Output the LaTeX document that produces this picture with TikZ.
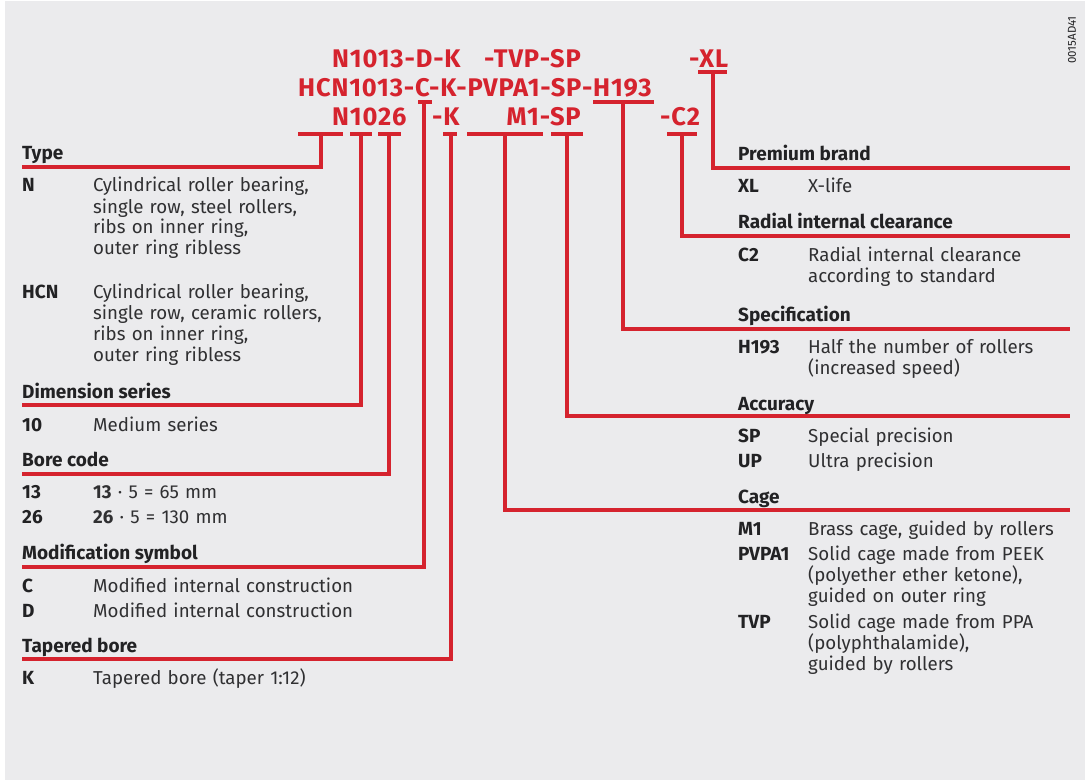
\documentclass[tikz,border=0pt]{standalone}
\usepackage{fontspec}
\setmainfont{Fira Sans}
\newfontfamily\codefont[LetterSpace=3.3]{Fira Sans}
\definecolor{brandred}{RGB}{213,35,46}
\definecolor{panel}{RGB}{235,235,237}
\definecolor{ink}{RGB}{34,34,36}
\definecolor{bodyink}{RGB}{48,48,50}
\begin{document}
\begin{tikzpicture}[x=1pt,y=-1pt,
  codetext/.style={anchor=base west, inner sep=0pt, text=brandred,
    font=\codefont\fontsize{25.5}{28}\selectfont\bfseries},
  head/.style={anchor=base west, inner sep=0pt, text=ink,
    font=\fontsize{19}{21}\selectfont\bfseries},
  keytext/.style={head},
  desc/.style={anchor=base west, inner sep=0pt, text=bodyink,
    font=\fontsize{18.7}{21}\selectfont, text width=330pt, align=left},
  lead/.style={draw=brandred, line width=3.5pt, line cap=butt, line join=miter}]
\useasboundingbox (0,0) rectangle (1085,781);
\fill[panel] (5,1) rectangle (1085,780);

% ---- order designations
\node[codetext] (c1a) at (332,68) {N1013-D-K};
\node[codetext, anchor=base east] (c1b) at (581,68) {-TVP-SP};
\node[codetext] (c1c) at (689,68) {-XL};
\node[codetext] (c2) at (298,97) {HCN1013-C-K-PVPA1-SP-H193};
\node[codetext] (c3a) at (332,126) {N1026};
\node[codetext] (c3b) at (432,126) {-K};
\node[codetext, anchor=base east] (c3c) at (581,126) {M1-SP};
\node[codetext] (c3d) at (660,126) {-C2};

\node[rotate=90, inner sep=0pt, text=ink, font=\fontsize{11.5}{12}\selectfont] (ref) at (1072,40) {0015AD41};

% ---- left column
\node[head] (hType) at (22,160) {Type};
\node[keytext] (kN) at (22,192) {N};
\node[desc] (dN) at (93,192) {Cylindrical roller bearing,\\single row, steel rollers,\\ribs on inner ring,\\outer ring ribless};
\node[keytext] (kHCN) at (22,298) {HCN};
\node[desc] (dHCN) at (93,298) {Cylindrical roller bearing,\\single row, ceramic rollers,\\ribs on inner ring,\\outer ring ribless};

\node[head] (hDim) at (22,398) {Dimension series};
\node[keytext] (k10) at (22,431) {10};
\node[desc] (d10) at (93,431) {Medium series};

\node[head] (hBore) at (22,466) {Bore code};
\node[keytext] (k13) at (22,498) {13};
\node[desc] (d13) at (93,498) {\textbf{13} · 5 = 65 mm};
\node[keytext] (k26) at (22,523) {26};
\node[desc] (d26) at (93,523) {\textbf{26} · 5 = 130 mm};

\node[head] (hMod) at (22,559) {Modification symbol};
\node[keytext] (kC) at (22,592) {C};
\node[desc] (dC) at (93,592) {Modified internal construction};
\node[keytext] (kD) at (22,617) {D};
\node[desc] (dD) at (93,617) {Modified internal construction};

\node[head] (hTap) at (22,652) {Tapered bore};
\node[keytext] (kK) at (22,684) {K};
\node[desc] (dK) at (93,684) {Tapered bore (taper 1:12)};

% ---- right column
\node[head] (hPrem) at (738,161) {Premium brand};
\node[keytext] (kXL) at (738,193) {XL};
\node[desc] (dXL) at (808,193) {X-life};

\node[head] (hRad) at (738,229) {Radial internal clearance};
\node[keytext] (kC2) at (738,261) {C2};
\node[desc] (dC2) at (808,261) {Radial internal clearance\\according to standard};

\node[head] (hSpec) at (738,321) {Specification};
\node[keytext] (kH) at (738,353) {H193};
\node[desc] (dH) at (808,353) {Half the number of rollers\\(increased speed)};

\node[head] (hAcc) at (738,410) {Accuracy};
\node[keytext] (kSP) at (738,442) {SP};
\node[desc] (dSP) at (808,442) {Special precision};
\node[keytext] (kUP) at (738,467) {UP};
\node[desc] (dUP) at (808,467) {Ultra precision};

\node[head] (hCage) at (738,503) {Cage};
\node[keytext] (kM1) at (738,535) {M1};
\node[desc] (dM1) at (808,535) {Brass cage, guided by rollers};
\node[keytext] (kPV) at (738,560) {PVPA1};
\node[desc] (dPV) at (808,560) {Solid cage made from PEEK\\(polyether ether ketone),\\guided on outer ring};
\node[keytext] (kTVP) at (738,628) {TVP};
\node[desc] (dTVP) at (808,628) {Solid cage made from PPA\\(polyphthalamide),\\guided by rollers};

% ---- leader lines: bar under the code, stem, rule under the heading
\coordinate (lEnd) at (22,0);
\coordinate (rEnd) at (1070,0);

% Type
\draw[lead] (298,134) -- (343,134);
\draw[lead] (321,134) |- (lEnd |- 0,167);
% Dimension series
\draw[lead] (350,134) -- (372,134);
\draw[lead] (361,134) |- (lEnd |- 0,405);
% Bore code
\draw[lead] (378,134) -- (401,134);
\draw[lead] (389,134) |- (lEnd |- 0,474);
% Modification symbol
\draw[lead] (418,102) -- (432,102);
\draw[lead] (424,102) |- (lEnd |- 0,567);
% Tapered bore
\draw[lead] (443,134) -- (457,134);
\draw[lead] (451,134) |- (lEnd |- 0,659);
% Cage
\draw[lead] (467,134) -- (543,134);
\draw[lead] (505,134) |- (rEnd |- 0,510);
% Accuracy
\draw[lead] (551,134) -- (583,134);
\draw[lead] (567,134) |- (rEnd |- 0,416);
% Specification
\draw[lead] (593,102) -- (654,102);
\draw[lead] (623,102) |- (rEnd |- 0,329);
% Radial internal clearance
\draw[lead] (667,134) -- (697,134);
\draw[lead] (682,134) |- (rEnd |- 0,236);
% Premium brand
\draw[lead] (698,72) -- (727,72);
\draw[lead] (713,72) |- (rEnd |- 0,168);
\end{tikzpicture}
\end{document}
